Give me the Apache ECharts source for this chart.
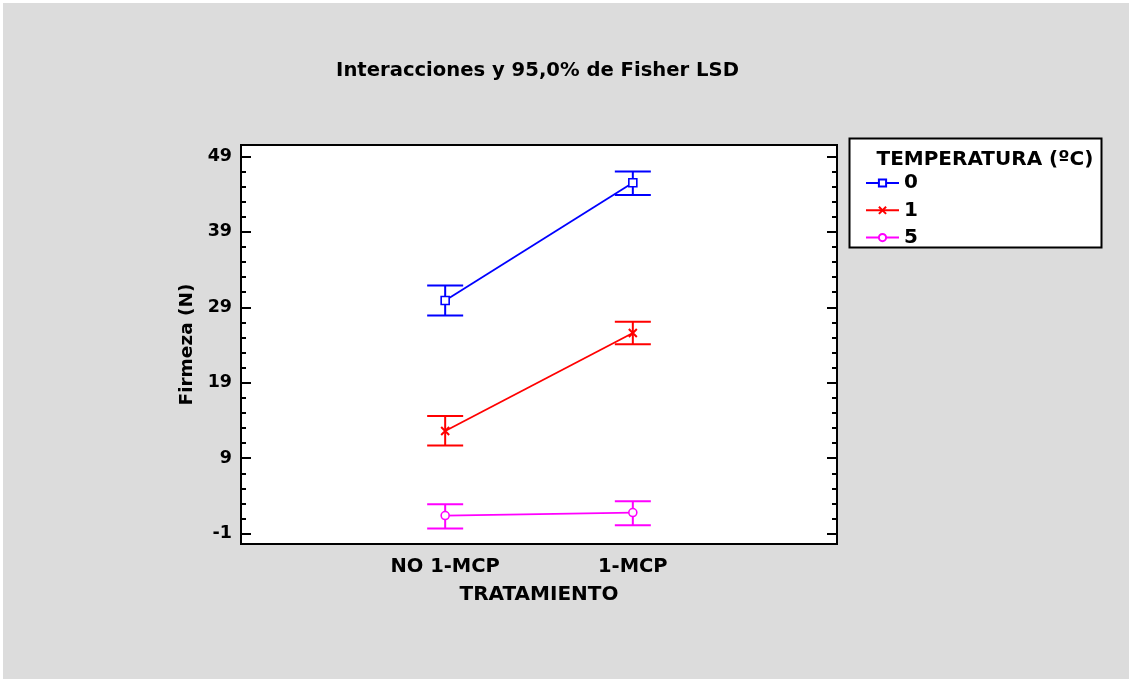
<!DOCTYPE html>
<html>
<head>
<meta charset="utf-8">
<script src="https://cdn.jsdelivr.net/npm/echarts@6/dist/echarts.min.js"></script>
<style>
html,body{margin:0;padding:0;background:#fff;}
#chart{width:1130px;height:682px;}
</style>
</head>
<body>
<div id="chart"></div>
<script>
// ---- data ----
const categories = ['NO 1-MCP', '1-MCP'];
const seriesNames = ['0', '1', '5'];
const means0 = [29.9, 45.5];
const low0 = [27.9, 43.9];
const high0 = [31.9, 47.0];
const means1 = [12.6, 25.6];
const low1 = [10.7, 24.1];
const high1 = [14.6, 27.1];
const means5 = [1.4, 1.8];
const low5 = [-0.3, 0.1];
const high5 = [2.9, 3.3];
const majorTicks = [-1, 9, 19, 29, 39, 49];
const minorTicks = [1, 3, 5, 7, 11, 13, 15, 17, 21, 23, 25, 27, 31, 33, 35, 37, 41, 43, 45, 47];

const FONT = '"DejaVu Sans", sans-serif';
const colors = ['#0000ff', '#ff0000', '#ff00ff'];
const symbols = ['rect', 'path://M0,0L10,10M10,0L0,10', 'circle'];
const means = [means0, means1, means5];
const lows = [low0, low1, low5];
const highs = [high0, high1, high5];

const YMIN = -2.37, YMAX = 50.51;

function yAx(pos, ticks, len, labels) {
  return {
    type: 'value', position: pos, min: YMIN, max: YMAX,
    splitLine: { show: false },
    axisLine: { show: false, onZero: false },
    axisTick: { show: true, inside: true, length: len, customValues: ticks, lineStyle: { color: '#000', width: 2 } },
    axisLabel: labels ? { show: true, customValues: ticks, margin: 9, color: '#000', fontSize: 17.5, fontWeight: 'bold', fontFamily: FONT } : { show: false }
  };
}

const series = [];
for (let s = 0; s < 3; s++) {
  series.push({
    type: 'custom',
    name: seriesNames[s] + ' LSD',
    z: 2,
    silent: true,
    renderItem: function (params, api) {
      const x = api.value(0);
      const p1 = api.coord([x, api.value(1)]);
      const p2 = api.coord([x, api.value(2)]);
      const hw = 18;
      const st = { stroke: colors[s], lineWidth: 2 };
      return {
        type: 'group',
        children: [
          { type: 'line', shape: { x1: p1[0], y1: p1[1], x2: p2[0], y2: p2[1] }, style: st },
          { type: 'line', shape: { x1: p1[0] - hw, y1: p1[1], x2: p1[0] + hw, y2: p1[1] }, style: st },
          { type: 'line', shape: { x1: p2[0] - hw, y1: p2[1], x2: p2[0] + hw, y2: p2[1] }, style: st }
        ]
      };
    },
    encode: { x: 0, y: [1, 2] },
    data: categories.map((c, i) => [i, lows[s][i], highs[s][i]])
  });
}
for (let s = 0; s < 3; s++) {
  const isCross = s === 1;
  series.push({
    type: 'line',
    name: seriesNames[s],
    z: 3,
    symbol: symbols[s],
    symbolSize: 8,
    showSymbol: true,
    lineStyle: { color: colors[s], width: 1.8 },
    itemStyle: isCross ? { color: colors[s], borderColor: colors[s], borderWidth: 2 } :
      { color: '#fff', borderColor: colors[s], borderWidth: 1.6 },
    emphasis: { disabled: true },
    data: categories.map((c, i) => [i, means[s][i]])
  });
}

const chart = echarts.init(document.getElementById('chart'), null, { renderer: 'canvas' });
chart.setOption({
  animation: false,
  backgroundColor: '#ffffff',
  graphic: [
    { type: 'rect', z: -10, shape: { x: 3, y: 3, width: 1126, height: 676 }, style: { fill: '#dcdcdc' } },
    { type: 'text', x: 537.5, y: 71, style: { text: 'Interacciones y 95,0% de Fisher LSD', fill: '#000', font: 'bold 19.6px ' + FONT, textAlign: 'center', textVerticalAlign: 'middle' } },
    { type: 'rect', z: 0, shape: { x: 849.5, y: 138.5, width: 252, height: 109 }, style: { fill: '#fff', stroke: '#000', lineWidth: 2 } },
    { type: 'text', z: 1, x: 876.5, y: 159.5, style: { text: 'TEMPERATURA (ºC)', fill: '#000', font: 'bold 20px ' + FONT, textVerticalAlign: 'middle' } }
  ],
  grid: { left: 241, right: 293, top: 145, bottom: 138, show: true, backgroundColor: '#fff', borderColor: '#000', borderWidth: 2, containLabel: false },
  legend: {
    data: seriesNames,
    orient: 'vertical',
    left: 860, top: 168,
    itemWidth: 33, itemHeight: 9, itemGap: 7.3,
    selectedMode: false,
    textStyle: { color: '#000', fontSize: 20, fontWeight: 'bold', fontFamily: FONT }
  },
  xAxis: {
    type: 'value', min: -1.088, max: 2.088,
    splitLine: { show: false },
    axisLine: { show: false, onZero: false },
    axisTick: { show: false },
    axisLabel: { customValues: [0, 1], formatter: v => categories[Math.round(v)], margin: 13, color: '#000', fontSize: 19.5, fontWeight: 'bold', fontFamily: FONT },
    name: 'TRATAMIENTO', nameLocation: 'middle', nameGap: 41,
    nameTextStyle: { color: '#000', fontSize: 20, fontWeight: 'bold', fontFamily: FONT }
  },
  yAxis: [
    Object.assign(yAx('left', majorTicks, 10, true), { name: 'Firmeza (N)', nameLocation: 'middle', nameGap: 43, nameTextStyle: { color: '#000', fontSize: 18.5, fontWeight: 'bold', fontFamily: FONT } }),
    yAx('left', minorTicks, 5, false),
    yAx('right', majorTicks, 10, false),
    yAx('right', minorTicks, 5, false)
  ],
  series: series
});
</script>
</body>
</html>
